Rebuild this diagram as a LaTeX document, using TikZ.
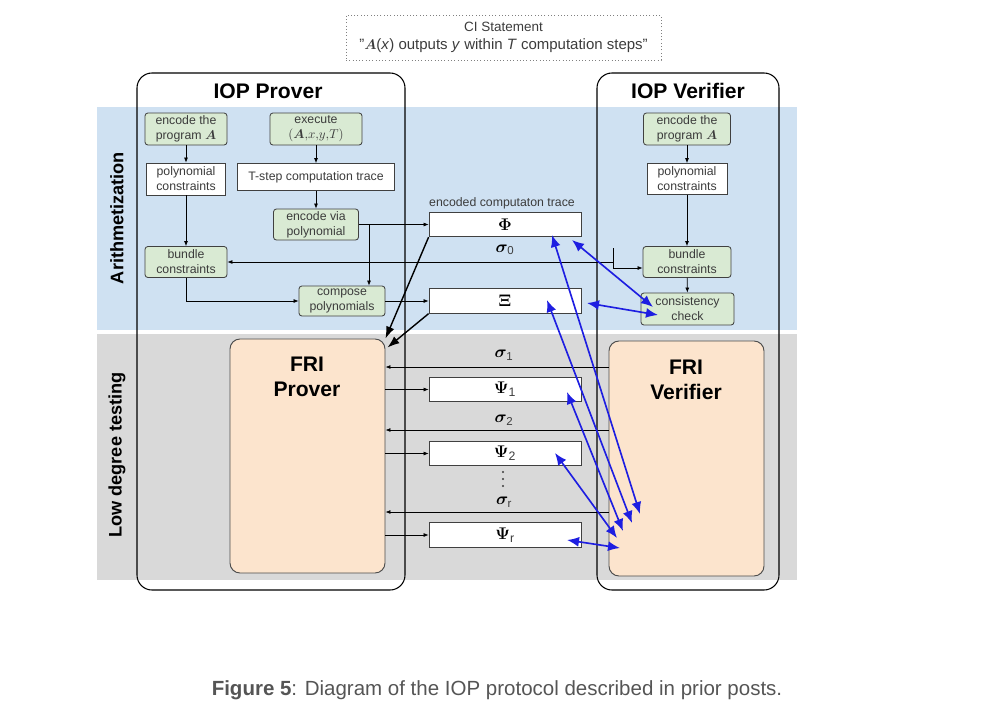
\documentclass[tikz,border=0pt]{standalone}
\usepackage{fontspec}
\setmainfont{Liberation Sans}
\usepackage{amsmath,amssymb,bm}
\usetikzlibrary{arrows.meta,positioning,calc}
\definecolor{BandBlue}{RGB}{207,225,242}
\definecolor{BandGray}{RGB}{217,217,217}
\definecolor{BoxGreen}{RGB}{217,234,211}
\definecolor{FriPeach}{RGB}{252,228,205}
\definecolor{LinkBlue}{RGB}{30,30,225}
\definecolor{TextGray}{RGB}{60,60,60}
\definecolor{CapGray}{RGB}{85,85,85}

\tikzset{
  box/.style={draw=black!75, line width=0.7pt, align=center, inner sep=0pt, text=TextGray, font=\fontsize{10.5}{12.8}\selectfont},
  greenbox/.style={box, fill=BoxGreen, rounded corners=2.5pt},
  whitebox/.style={box, fill=white},
  msgbox/.style={draw=black!75, line width=0.7pt, fill=white, minimum width=45.6mm, minimum height=7.35mm, inner sep=0pt, font=\fontsize{15}{18}\selectfont},
  flow/.style={-{Latex[length=1.5mm,width=1.2mm]}, line width=0.6pt},
  hand/.style={-{Latex[length=3.6mm,width=2.6mm]}, line width=1.2pt},
  check/.style={{Latex[length=3.6mm,width=3mm]}-{Latex[length=3.6mm,width=3mm]}, line width=1.4pt, LinkBlue},
  party/.style={draw=black, line width=0.9pt, rounded corners=4.5mm},
  fri/.style={draw=black!70, line width=0.8pt, fill=FriPeach, rounded corners=3mm},
  title/.style={font=\bfseries\fontsize{18}{21}\selectfont},
  sig/.style={font=\fontsize{14}{16}\selectfont},
  band/.style={rotate=90, font=\bfseries\fontsize{15.5}{18}\selectfont},
}

\begin{document}
\begin{tikzpicture}[x=0.3mm, y=-0.3mm]
  \useasboundingbox (0,0) rectangle (999,717);
  % bands
  \fill[BandBlue] (97,107) rectangle (797,330);
  \fill[BandGray] (97,334) rectangle (797,580);
  \node[band] (arith) at (117,218) {Arithmetization};
  \node[band] (ldt) at (117,455) {Low degree testing};

  % statement
  \node[draw=gray, dotted, line width=0.8pt, minimum width=94.5mm, minimum height=13.5mm, align=center, text=TextGray, font=\fontsize{11.5}{15.4}\selectfont] (ci) at (503.5,37.5)
    {CI Statement\\{\fontsize{12.8}{15.4}\selectfont"$\boldsymbol{A}$(\textit{x}) outputs \textit{y} within \textit{T} computation steps"}};

  % the two parties
  \node[party, minimum width=80.4mm, minimum height=155.1mm] (iopP) at (271,331.5) {};
  \node[party, minimum width=54.6mm, minimum height=155.1mm] (iopV) at (688,331.5) {};
  \node[title] (iopPT) at (268,91) {IOP Prover};
  \node[title] (iopVT) at (688,91) {IOP Verifier};

  % prover side
  \node[greenbox, minimum width=24.6mm, minimum height=9.6mm] (pencA) at (186,129) {encode the\\program $\boldsymbol{A}$};
  \node[greenbox, minimum width=27.6mm, minimum height=9.6mm] (pexec) at (316,129) {execute\\$(\boldsymbol{A}{,}x{,}y{,}T)$};
  \node[whitebox, minimum width=23.7mm, minimum height=9.6mm] (ppoly) at (186,179) {polynomial\\constraints};
  \node[whitebox, minimum width=47.1mm, minimum height=8.1mm] (ptrace) at (316,177) {T-step computation trace};
  \node[greenbox, minimum width=25.5mm, minimum height=9.3mm] (pencpoly) at (316,224.5) {encode via\\polynomial};
  \node[greenbox, minimum width=24.6mm, minimum height=9.3mm] (pbundle) at (186,262) {bundle\\constraints};
  \node[greenbox, minimum width=25.8mm, minimum height=9mm] (pcompose) at (342,301) {compose\\polynomials};

  % verifier side
  \node[greenbox, minimum width=26.1mm, minimum height=9.6mm] (vencA) at (687,129) {encode the\\program $\boldsymbol{A}$};
  \node[whitebox, minimum width=24mm, minimum height=9.3mm] (vpoly) at (687,179) {polynomial\\constraints};
  \node[greenbox, minimum width=26.4mm, minimum height=9.3mm] (vbundle) at (687,262) {bundle\\constraints};
  \node[greenbox, minimum width=27.9mm, minimum height=9.6mm] (vcheck) at (687.5,309) {consistency\\check};

  % FRI
  \node[fri, minimum width=46.5mm, minimum height=70.2mm] (frip) at (307.5,456) {};
  \node[fri, minimum width=46.5mm, minimum height=70.5mm] (friv) at (686.5,458.5) {};
  \node[title, align=center] (fripT) at (307,377) {FRI\\Prover};
  \node[title, align=center] (frivT) at (686,380) {FRI\\Verifier};

  % messages
  \node[text=TextGray, font=\fontsize{10.5}{12}\selectfont] (phiL) at (502,203) {encoded computaton trace};
  \node[msgbox] (phi) at (505,224.5) {$\boldsymbol{\Phi}$};
  \node[msgbox] (xi) at (505,301) {$\boldsymbol{\Xi}$};
  \node[msgbox] (psi1) at (505,389.5) {$\boldsymbol{\Psi}_{\text{\color{TextGray}1}}$};
  \node[msgbox] (psi2) at (505,453.5) {$\boldsymbol{\Psi}_{\text{\color{TextGray}2}}$};
  \node[msgbox] (psir) at (505,535) {$\boldsymbol{\Psi}_{\text{\color{TextGray}r}}$};
  \node[sig] (sig0) at (505,250) {$\boldsymbol{\sigma}_{\text{\color{TextGray}0}}$};
  \node[sig] (sig1) at (504,355) {$\boldsymbol{\sigma}_{\text{\color{TextGray}1}}$};
  \node[sig] (sig2) at (504,420) {$\boldsymbol{\sigma}_{\text{\color{TextGray}2}}$};
  \node[sig] (sigr) at (504,502) {$\boldsymbol{\sigma}_{\text{\color{TextGray}r}}$};
  \foreach \y in {472,479,486}
    \fill[TextGray] (503,\y) circle (0.35mm);

  % prover flow
  \draw[flow] (pencA) -- (ppoly);
  \draw[flow] (ppoly) -- (pbundle);
  \draw[flow] (pexec) -- (ptrace);
  \draw[flow] (ptrace) -- (pencpoly);
  \draw[flow] (pencpoly.east) -- (pencpoly.east -| phi.west);
  \coordinate (brA) at (369,224.5);
  \draw[flow] (brA) -- (brA |- pcompose.north);
  \draw[flow] (pbundle.south) |- (pcompose.west);
  \draw[flow] (pcompose.east) -- (pcompose.east -| xi.west);
  \draw[hand] (phi.south west) -- (frip.north east);
  \draw[hand] (xi.south west) -- ($(frip.north east)+(2,9)$);

  % verifier flow
  \draw[flow] (vencA) -- (vpoly);
  \draw[flow] (vpoly) -- (vbundle);
  \draw[flow] (vbundle) -- (vcheck);
  \coordinate (s0) at (613,248);
  \draw[flow] (s0) |- ($(vbundle.west)+(0,6)$);
  \draw[flow] (s0 |- pbundle.east) -- (pbundle.east);

  % FRI rounds
  \coordinate (s1) at (0,367);
  \coordinate (s2) at (0,430);
  \coordinate (sr) at (0,512);
  \foreach \s in {s1,s2,sr}
    \draw[flow] (\s -| friv.west) -- (\s -| frip.east);
  \foreach \p in {psi1,psi2,psir}
    \draw[flow] (\p.west -| frip.east) -- (\p.west);

  % queries
  \coordinate (phiA) at (552,235);  \coordinate (frivA) at (640,514);
  \coordinate (phiB) at (572,240);  \coordinate (chkB) at (653,307);
  \coordinate (xiC) at (587,303);   \coordinate (chkC) at (658,315);
  \coordinate (xiD) at (547,300);   \coordinate (frivD) at (632,523);
  \coordinate (psiE) at (567,392);  \coordinate (frivE) at (623,531);
  \coordinate (psiF) at (555,453);  \coordinate (frivF) at (617,538);
  \coordinate (psiG) at (567,540);  \coordinate (frivG) at (620,548);
  \foreach \a/\b in {phiA/frivA,phiB/chkB,xiC/chkC,xiD/frivD,psiE/frivE,psiF/frivF,psiG/frivG}
    \draw[check] (\a) -- (\b);

  \node[text=CapGray, font=\fontsize{17.5}{20}\selectfont] (caption) at (497,690)
    {\textbf{Figure 5}: Diagram of the IOP protocol described in prior posts.};
\end{tikzpicture}
\end{document}
